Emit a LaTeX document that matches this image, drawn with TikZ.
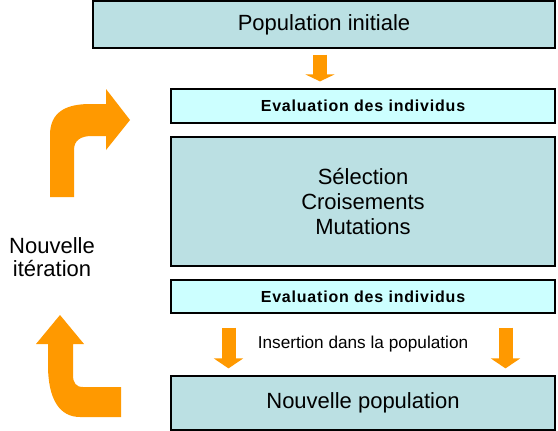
\documentclass[tikz,border=0pt]{standalone}
\usepackage{fontspec}
\setmainfont{Liberation Sans}
\usetikzlibrary{arrows.meta,calc}
\definecolor{popteal}{RGB}{187, 224, 227}
\definecolor{evalcyan}{RGB}{204, 255, 255}
\definecolor{loopranje}{RGB}{255, 153, 0}

\begin{document}
\begin{tikzpicture}[x=1pt, y=-1pt,
    popbox/.style={rectangle, draw=black, line width=1.2pt, fill=popteal, font=\fontsize{22}{25}\selectfont, align=center},
    evalbox/.style={rectangle, draw=black, line width=1.2pt, fill=evalcyan, minimum width=384pt, font=\fontsize{16}{18}\selectfont\bfseries\addfontfeature{LetterSpace=5}},
    blockarrow/.style={loopranje, line width=14pt}]
                \useasboundingbox (0,0) rectangle (558,431);

                % Boxes
                \node[popbox, minimum width=462pt, minimum height=47pt] (popinit) at (324,24.5) {Population initiale};
                \node[evalbox, minimum height=34pt] (eval1) at (363,106) {Evaluation des individus};
                \node[popbox, minimum width=384pt, minimum height=129pt] (ops) at (363,201.5) {Sélection\\Croisements\\Mutations};
                \node[evalbox, minimum height=33pt] (eval2) at (363,296.5) {Evaluation des individus};
                \node[popbox, minimum width=384pt, minimum height=54pt] (newpop) at (363,403) {Nouvelle population};

                % Arrows between boxes
                \coordinate (c1) at (320,0);
                \coordinate (cL) at (228.5,0);
                \coordinate (cR) at (505.5,0);
                \draw[blockarrow, -{Triangle[width=29pt,length=7pt]}, shorten <=6pt, shorten >=7pt] (popinit.south -| c1) -- (eval1.north -| c1);
                \draw[blockarrow, -{Triangle[width=29pt,length=10pt]}, shorten <=14pt, shorten >=7pt] (eval2.south -| cL) -- (newpop.north -| cL);
                \draw[blockarrow, -{Triangle[width=29pt,length=10pt]}, shorten <=14pt, shorten >=7pt] (eval2.south -| cR) -- (newpop.north -| cR);
                \node[font=\fontsize{17.2}{19}\selectfont] (insert) at ($(eval2.south)!0.5!(newpop.north)$) {Insertion dans la population};

                % Loop
                \fill[loopranje] (50,197) -- (50,135) .. controls (50,112) and (66,104) .. (90,104) -- (106,104) -- (106,89) -- (130,120) -- (106,150) -- (106,136) -- (92,136) .. controls (81,136) and (74,140) .. (74,150) -- (74,197) -- cycle;
                \fill[loopranje] (121,417) -- (80,417) .. controls (60,417) and (48,400) .. (48,365) -- (48,344) -- (36,344) -- (60,315) -- (84,344) -- (73,344) -- (73,375) .. controls (73,383) and (76,387) .. (83,387) -- (121,387) -- cycle;
                \node[font=\fontsize{22}{23}\selectfont, align=center] (iter) at (52,257) {Nouvelle\\itération};
            \end{tikzpicture}
\end{document}
